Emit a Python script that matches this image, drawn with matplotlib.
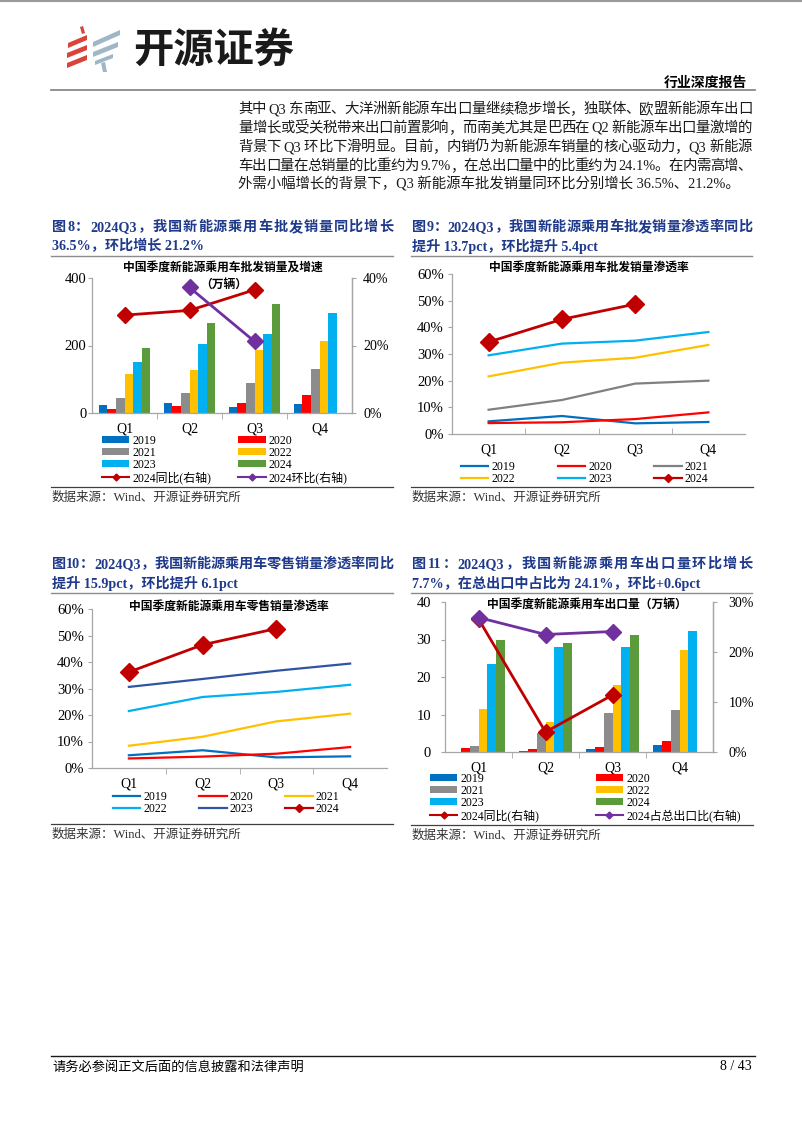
import re
import numpy as np
import matplotlib
matplotlib.use('Agg')
from matplotlib import pyplot as plt
from matplotlib.patches import Polygon
from matplotlib.lines import Line2D

plt.rcParams['font.family'] = ['Liberation Serif', 'Noto Sans CJK SC']
plt.rcParams['axes.unicode_minus'] = False

W, H = 802, 1133

quarters = ['Q1', 'Q2', 'Q3', 'Q4']
years = ['2019', '2020', '2021', '2022', '2023', '2024']
nan = np.nan

# fig8: wholesale volume (10k units)
ws_2019 = [25, 31, 19, 28]
ws_2020 = [11, 21, 30, 53]
ws_2021 = [44, 60, 89, 130]
ws_2022 = [117, 126, 186, 214]
ws_2023 = [150, 204, 235, 295]
ws_2024 = [193, 266, 322, nan]
ws_yoy_2024 = [0.290, 0.304, 0.365, nan]
ws_qoq_2024 = [nan, 0.372, 0.212, nan]

# fig9: wholesale penetration (%)
pen_ws_2019 = [4.75, 6.75, 4.0, 4.5]
pen_ws_2020 = [4.1, 4.4, 5.6, 8.1]
pen_ws_2021 = [9.1, 12.75, 18.9, 20.0]
pen_ws_2022 = [21.6, 26.75, 28.6, 33.4]
pen_ws_2023 = [29.5, 33.9, 35.0, 38.25]
pen_ws_2024 = [34.5, 43.0, 48.7, nan]

# fig10: retail penetration (%)
pen_rt_2019 = [4.8, 6.7, 4.0, 4.4]
pen_rt_2020 = [3.6, 4.3, 5.4, 7.9]
pen_rt_2021 = [8.4, 11.8, 17.6, 20.5]
pen_rt_2022 = [21.5, 26.8, 28.7, 31.4]
pen_rt_2023 = [30.6, 33.6, 36.7, 39.4]
pen_rt_2024 = [36.2, 46.5, 52.6, nan]

# fig11: exports (10k units)
ex_2019 = [0.1, 0.2, 0.8, 1.9]
ex_2020 = [1.0, 0.8, 1.3, 3.0]
ex_2021 = [1.7, 5.0, 10.4, 11.1]
ex_2022 = [11.6, 7.9, 17.9, 27.3]
ex_2023 = [23.6, 27.9, 28.0, 32.2]
ex_2024 = [30.0, 29.0, 31.2, nan]
ex_yoy_2024 = [0.266, 0.040, 0.114, nan]
ex_share_2024 = [0.269, 0.235, 0.241, nan]

body_lines = [
    '其中 Q3 东南亚、大洋洲新能源车出口量继续稳步增长，独联体、欧盟新能源车出口',
    '量增长或受关税带来出口前置影响，而南美尤其是巴西在 Q2 新能源车出口量激增的',
    '背景下 Q3 环比下滑明显。目前，内销仍为新能源车销量的核心驱动力，Q3 新能源',
    '车出口量在总销量的比重约为 9.7%，在总出口量中的比重约为 24.1%。在内需高增、',
    '外需小幅增长的背景下，Q3 新能源车批发销量同环比分别增长 36.5%、21.2%。',
]

C19, C20, C21, C22, C23, C24 = '#0070C0', '#FF0000', '#8C8C8C', '#FFC000', '#00B0F0', '#5B9B3C'
DRED, PURP, NAVY_L = '#C00000', '#7030A0', '#2E54A3'
TITLE_C = '#1F3A8A'
SPINE_C = '#A6A6A6'


def fx(x):
    return x / W


def fy(y):
    return 1 - y / H


def ax_at(l, t, r, b):
    return fig.add_axes([fx(l), fy(b), (r - l) / W, (b - t) / H])


def hline(x0, x1, y, color='#808080', lw=1.0):
    fig.add_artist(Line2D([fx(x0), fx(x1)], [fy(y), fy(y)], color=color, lw=lw,
                          transform=fig.transFigure))


def poly(pts, color):
    fig.add_artist(Polygon([(fx(a), fy(b)) for a, b in pts], closed=True, color=color,
                           transform=fig.transFigure, lw=0))


def text_width(s, **kw):
    if s == ' ':
        return 3.0
    t = fig.text(0, 0, s, **kw)
    w = t.get_window_extent(renderer).width
    t.remove()
    return w


def justify(x0, x1, y, s, **kw):
    # spread tokens so the line fills x0..x1, like the justified source text
    toks = re.findall(r'[A-Za-z0-9.%+]+| |[^\sA-Za-z0-9.%+]', s)
    ws = [text_width(t, **kw) for t in toks]
    gap = (x1 - x0 - sum(ws)) / (len(toks) - 1)
    xx = x0
    for t, w in zip(toks, ws):
        if t != ' ':
            fig.text(fx(xx), fy(y), t, ha='left', va='baseline', **kw)
        xx += w + gap


def base_style(ax, right=False):
    ax.spines['top'].set_visible(False)
    ax.spines['right'].set_visible(right)
    for s in ['left', 'bottom', 'right']:
        ax.spines[s].set_color(SPINE_C)
        ax.spines[s].set_linewidth(0.9)
    ax.set_facecolor('none')
    ax.set_xlim(-0.5, 3.5)
    ax.set_xticks(range(4))
    ax.set_xticklabels(quarters)
    ax.set_xticks([0.5, 1.5, 2.5], minor=True)
    ax.tick_params(axis='x', which='major', length=0, pad=7, labelsize=10)
    ax.tick_params(axis='x', which='minor', length=4, direction='out', color=SPINE_C)
    ax.tick_params(axis='y', length=3, direction='out', color=SPINE_C, labelsize=10.5, pad=3)


def pct_fmt(ax):
    ax.yaxis.set_major_formatter(matplotlib.ticker.FuncFormatter(lambda v, p: f'{v * 100:.0f}%'))


def right_axis(ax, top, ticks, pad):
    ax2 = ax.twinx()
    for s in ['top', 'left', 'bottom']:
        ax2.spines[s].set_visible(False)
    ax2.spines['right'].set_color(SPINE_C)
    ax2.spines['right'].set_linewidth(0.9)
    ax2.set_ylim(0, top)
    ax2.set_yticks(ticks)
    pct_fmt(ax2)
    ax2.tick_params(axis='y', length=3, direction='out', color=SPINE_C, labelsize=10, pad=pad)
    return ax2


fig = plt.figure(figsize=(W / 100, H / 100), dpi=100)
renderer = fig.canvas.get_renderer()

LEG = dict(frameon=False, fontsize=8.6, borderpad=0, borderaxespad=0, labelspacing=0.0,
           handlelength=2.3, handleheight=0.5, handletextpad=0.25)

# ---------- page header ----------
hline(0, W, 1, color='#9A9A9A', lw=1.5)
red = '#D8433B'
gblue = '#9FB6C6'
poly([(80, 27), (83, 26), (85, 33), (82, 34)], red)
poly([(68, 43), (87, 35), (87, 40), (68, 48)], red)
poly([(67, 53), (87, 45), (87, 50), (67, 58)], red)
poly([(67, 63), (87, 55), (87, 60), (67, 68)], red)
poly([(93, 42), (120, 30), (120, 35), (93, 47)], gblue)
poly([(93, 52), (118, 42), (118, 47), (93, 57)], gblue)
poly([(95, 61), (113, 54), (113, 58), (95, 65)], gblue)
poly([(101, 63), (105, 62), (107, 72), (103, 72)], gblue)
fig.text(fx(133), fy(50), '开源证券', fontsize=29, fontweight='bold', family='Noto Sans CJK SC',
         va='center', ha='left', color='#1A1A1A')
fig.text(fx(747), fy(83), '行业深度报告', fontsize=10, fontweight='bold', ha='right', va='center')
hline(51, 755, 90, color='#7F7F7F', lw=1.2)

for i, s in enumerate(body_lines):
    if i < len(body_lines) - 1:
        justify(238, 752, 108 + i * 19 + 5, s, fontsize=10.4, color='#1A1A1A')
    else:
        fig.text(fx(238), fy(108 + i * 19), s, fontsize=10.4, ha='left', va='center', color='#1A1A1A')


def fig_title(x, y, l1, l2, x1):
    kw = dict(fontsize=10.2, fontweight='bold', color=TITLE_C)
    justify(x, x1, y + 5, l1, **kw)
    fig.text(fx(x), fy(y + 20), l2, va='center', **kw)
    hline(x - 1, x1, y + 30, color='#8C8C8C', lw=1.0)


def source(x, y, x1):
    hline(x - 1, x1, y - 11, color='#404040', lw=0.9)
    fig.text(fx(x), fy(y), '数据来源：Wind、开源证券研究所', fontsize=9, va='center', color='#333333')


fig_title(52, 226, '图8：2024Q3，我国新能源乘用车批发销量同比增长', '36.5%，环比增长 21.2%', 393)
fig_title(412, 226, '图9：2024Q3，我国新能源乘用车批发销量渗透率同比', '提升 13.7pct，环比提升 5.4pct', 752)
fig_title(52, 563, '图10：2024Q3，我国新能源乘用车零售销量渗透率同比', '提升 15.9pct，环比提升 6.1pct', 393)
fig_title(412, 563, '图11：2024Q3，我国新能源乘用车出口量环比增长',
          '7.7%，在总出口中占比为 24.1%，环比+0.6pct', 752)
source(52, 498, 393)
source(412, 498, 753)
source(52, 835, 393)
source(412, 836, 753)

x = np.arange(4)
bw = 0.133
offs = (np.arange(6) - 2.5) * bw
bar_cols = [C19, C20, C21, C22, C23, C24]

# ---------- fig 8 ----------
ax = ax_at(92, 278, 352, 413)
base_style(ax, right=True)
ax.tick_params(axis='y', pad=1)
ws = [ws_2019, ws_2020, ws_2021, ws_2022, ws_2023, ws_2024]
bars = []
for i in range(6):
    bars.append(ax.bar(x + offs[i], ws[i], bw, color=bar_cols[i], label=years[i]))
ax.set_ylim(0, 400)
ax.set_yticks([0, 200, 400])
ax2 = right_axis(ax, 0.4, [0, 0.2, 0.4], 5)
ax2.plot(x, ws_yoy_2024, color=DRED, lw=2, marker='D', ms=8)
ax2.plot(x, ws_qoq_2024, color=PURP, lw=2, marker='D', ms=8)
fig.text(fx(223), fy(269), '中国季度新能源乘用车批发销量及增速', fontsize=8.5, fontweight='bold',
         ha='center', va='center')
fig.text(fx(224), fy(285), '（万辆）', fontsize=8.5, fontweight='bold', ha='center', va='center')

h_yoy = Line2D([], [], color=DRED, lw=1.5, marker='D', ms=3.5)
h_qoq = Line2D([], [], color=PURP, lw=1.5, marker='D', ms=3.5)
handles = [bars[0], bars[2], bars[4], h_yoy, bars[1], bars[3], bars[5], h_qoq]
labels = ['2019', '2021', '2023', '2024同比(右轴)', '2020', '2022', '2024', '2024环比(右轴)']
fig.legend(handles, labels, loc='upper left', bbox_to_anchor=(fx(102), fy(435)), ncol=2,
           columnspacing=2.26, **LEG)

# ---------- fig 9 ----------
ax = ax_at(452, 274, 745, 434)
base_style(ax)
ax.tick_params(axis='x', which='minor', direction='in')
pen9 = [pen_ws_2019, pen_ws_2020, pen_ws_2021, pen_ws_2022, pen_ws_2023]
cols9 = [C19, C20, '#808080', C22, C23]
lines9 = []
for i in range(5):
    lines9 += ax.plot(x, np.array(pen9[i]) / 100, color=cols9[i], lw=1.6)
ax.plot(x, np.array(pen_ws_2024) / 100, color=DRED, lw=2, marker='D', ms=9)
ax.set_ylim(0, 0.6)
ax.set_yticks(np.arange(0, 0.61, 0.1))
pct_fmt(ax)
fig.text(fx(589), fy(268), '中国季度新能源乘用车批发销量渗透率', fontsize=8.5, fontweight='bold',
         ha='center', va='center')
h24 = Line2D([], [], color=DRED, lw=1.6, marker='D', ms=4)
hs = lines9 + [h24]
order = [0, 3, 1, 4, 2, 5]
fig.legend([hs[i] for i in order], [years[i] for i in order], loc='upper left',
           bbox_to_anchor=(fx(461), fy(461)), ncol=3, columnspacing=3.56, **LEG)

# ---------- fig 10 ----------
ax = ax_at(92, 609, 387, 768)
base_style(ax)
pen10 = [pen_rt_2019, pen_rt_2020, pen_rt_2021, pen_rt_2022, pen_rt_2023]
cols10 = [C19, C20, C22, C23, NAVY_L]
lines10 = []
for i in range(5):
    lines10 += ax.plot(x, np.array(pen10[i]) / 100, color=cols10[i], lw=1.6)
ax.plot(x, np.array(pen_rt_2024) / 100, color=DRED, lw=2, marker='D', ms=9)
ax.set_ylim(0, 0.6)
ax.set_yticks(np.arange(0, 0.61, 0.1))
pct_fmt(ax)
fig.text(fx(229), fy(607), '中国季度新能源乘用车零售销量渗透率', fontsize=8.5, fontweight='bold',
         ha='center', va='center')
hs = lines10 + [h24]
fig.legend([hs[i] for i in order], [years[i] for i in order], loc='upper left',
           bbox_to_anchor=(fx(113), fy(791)), ncol=3, columnspacing=2.67, **LEG)

# ---------- fig 11 ----------
ax = ax_at(445, 602, 713, 752)
base_style(ax, right=True)
ax.tick_params(axis='y', pad=7)
ex = [ex_2019, ex_2020, ex_2021, ex_2022, ex_2023, ex_2024]
bars = []
for i in range(6):
    bars.append(ax.bar(x + offs[i], ex[i], bw, color=bar_cols[i], label=years[i]))
ax.set_ylim(0, 40)
ax.set_yticks([0, 10, 20, 30, 40])
ax2 = right_axis(ax, 0.3, [0, 0.1, 0.2, 0.3], 8)
ax2.plot(x, ex_yoy_2024, color=DRED, lw=2, marker='D', ms=8)
ax2.plot(x, ex_share_2024, color=PURP, lw=2, marker='D', ms=8)
fig.text(fx(587), fy(605), '中国季度新能源乘用车出口量（万辆）', fontsize=8.5, fontweight='bold',
         ha='center', va='center')
h_share = Line2D([], [], color=PURP, lw=1.5, marker='D', ms=3.5)
handles = [bars[0], bars[2], bars[4], h_yoy, bars[1], bars[3], bars[5], h_share]
labels = ['2019', '2021', '2023', '2024同比(右轴)', '2020', '2022', '2024', '2024占总出口比(右轴)']
fig.legend(handles, labels, loc='upper left', bbox_to_anchor=(fx(430), fy(773)), ncol=2,
           columnspacing=4.7, **LEG)

# ---------- footer ----------
hline(51, 755, 1056, color='#1A1A1A', lw=1.0)
fig.text(fx(52), fy(1067), '请务必参阅正文后面的信息披露和法律声明', fontsize=9.5, va='center')
fig.text(fx(752), fy(1067), '8 / 43', fontsize=10, va='center', ha='right')

fig.savefig('out.png', dpi=100)
